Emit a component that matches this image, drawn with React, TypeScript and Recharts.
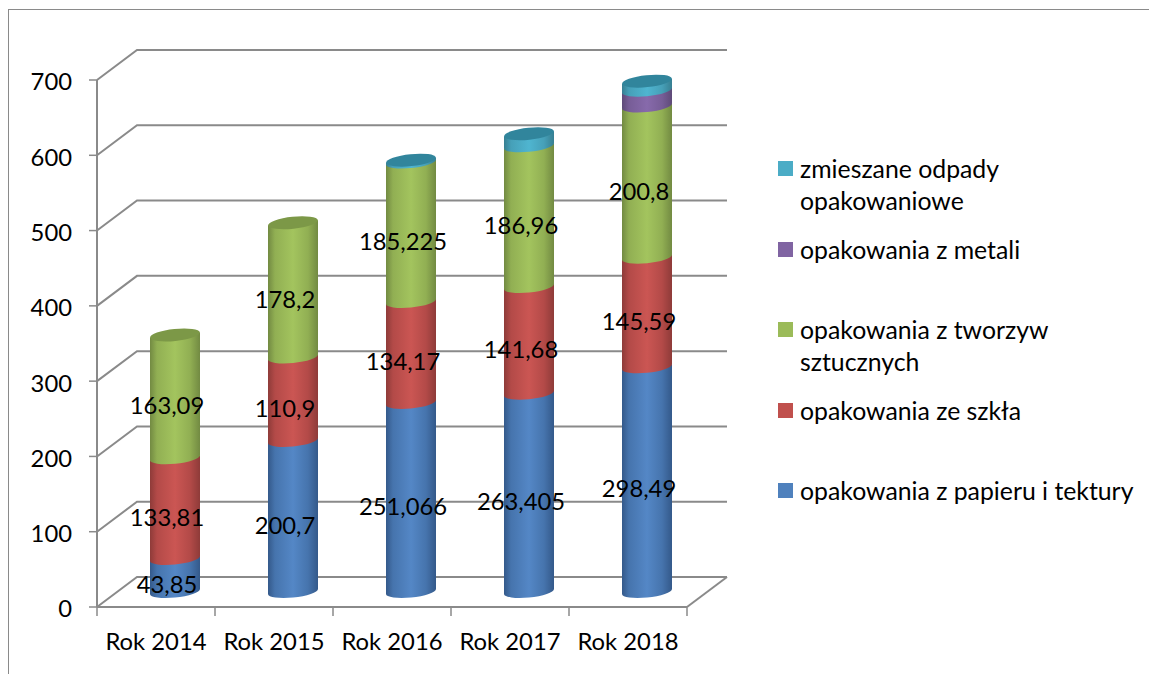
import { BarChart, Bar, XAxis, YAxis, CartesianGrid, Legend, LabelList } from "recharts";

const categories = ["Rok 2014", "Rok 2015", "Rok 2016", "Rok 2017", "Rok 2018"];
const paper = [43.85, 200.7, 251.066, 263.405, 298.49];
const glass = [133.81, 110.9, 134.17, 141.68, 145.59];
const plastic = [163.09, 178.2, 185.225, 186.96, 200.8];
const metal = [0, 0, 0, 0, 21];
const mixed = [0, 0, 2.5, 16, 12];
const yTicks = [0, 100, 200, 300, 400, 500, 600, 700];

const seriesValues = [paper, glass, plastic, metal, mixed];
const data = categories.map((name, i) => ({
  name,
  paper: paper[i],
  glass: glass[i],
  plastic: plastic[i],
  metal: metal[i],
  mixed: mixed[i],
}));

const FONT = "Lato, sans-serif";
const FONT_SIZE = 23.8;
const LINE = "#8a8a8a";
const BAND = 118;
const BOTTOM = 607;

const fmt = (v: any) => (v ? String(v).replace(".", ",") : "");

// the top of the stack gets the darker lid
function isTop(series: number, index: number) {
  for (let s = seriesValues.length - 1; s >= 0; s--) {
    if (seriesValues[s][index] > 0) return s === series;
  }
  return false;
}

const cylinder = (series: number, id: string, capFill: string) => (props: any) => {
  const { x, y, width, height, index } = props;
  if (!height || height <= 0) return <g />;
  const left = x + 19;
  const right = left + width;
  const top = y - 15.5;
  const bottom = y + height - 15.5;
  const rx = width / 2;
  const ry = 6;
  const t = 2.5;
  return (
    <g>
      <path
        d={`M${left},${top + t} L${right},${top - t} L${right},${bottom - t} A${rx},${ry} -6 0 1 ${left},${bottom + t} Z`}
        fill={`url(#${id})`}
      />
      {isTop(series, index) && (
        <ellipse cx={left + rx} cy={top} rx={rx} ry={ry} fill={capFill} transform={`rotate(-6 ${left + rx} ${top})`} />
      )}
    </g>
  );
};

function Gradient({ id, dark, base, light }: { id: string; dark: string; base: string; light: string }) {
  return (
    <linearGradient id={id} x1="0" y1="0" x2="1" y2="0">
      <stop offset="0" stopColor={dark} />
      <stop offset="0.14" stopColor={base} />
      <stop offset="0.5" stopColor={light} />
      <stop offset="0.8" stopColor={base} />
      <stop offset="1" stopColor={dark} />
    </linearGradient>
  );
}

// Excel puts the x ticks between the categories
function XTick(props: any) {
  const { x, y, index, payload } = props;
  const edge = x - BAND / 2;
  return (
    <g>
      <line x1={edge} x2={edge} y1={BOTTOM} y2={BOTTOM + 9} stroke={LINE} strokeWidth={1.5} />
      {index === categories.length - 1 && (
        <line x1={x + BAND / 2} x2={x + BAND / 2} y1={BOTTOM} y2={BOTTOM + 9} stroke={LINE} strokeWidth={1.5} />
      )}
      <text x={x} y={y + 1} textAnchor="middle" dominantBaseline="middle" fontSize={FONT_SIZE} fill="#000" fontFamily={FONT}>
        {payload.value}
      </text>
    </g>
  );
}

function GridLine(props: any) {
  const { x1, x2, y1, index } = props;
  const backY = y1 - 30;
  return (
    <g key={`grid-${index}`}>
      <polyline
        points={`${x1},${y1} ${x1 + 40},${backY} ${x2 + 40},${backY}`}
        fill="none"
        stroke={LINE}
        strokeWidth={2}
      />
      {Math.abs(y1 - BOTTOM) < 1 && (
        <line x1={x2} y1={y1} x2={x2 + 40} y2={backY} stroke={LINE} strokeWidth={2} />
      )}
    </g>
  );
}

function LegendList(props: any) {
  const items = [...(props.payload || [])].reverse();
  return (
    <div style={{ fontFamily: FONT, fontSize: 24.8, lineHeight: "31.5px", color: "#000" }}>
      {items.map((entry: any) => (
        <div key={entry.value} style={{ display: "flex", height: 80.5 }}>
          <span
            style={{ width: 15, height: 15, marginTop: 8, marginRight: 7, flexShrink: 0, background: entry.color }}
          />
          <span>{entry.value}</span>
        </div>
      ))}
    </div>
  );
}

export default function App() {
  return (
    <div style={{ position: "absolute", left: 0, top: 0, width: 1149, height: 674, overflow: "hidden", background: "#fff" }}>
      <div
        style={{
          position: "absolute",
          left: 8,
          top: 9,
          width: 1200,
          height: 700,
          borderLeft: "1.5px solid #8a8a8a",
          borderTop: "1.5px solid #8a8a8a",
        }}
      />
      <BarChart
        width={1149}
        height={674}
        data={data}
        margin={{ top: 80, right: 97, left: 0, bottom: 0 }}
        barSize={50}
        style={{ position: "absolute", left: 0, top: 0 }}
      >
        <defs>
          <Gradient id="gPaper" dark="#34598a" base="#4674ad" light="#5487c6" />
          <Gradient id="gGlass" dark="#8e3b39" base="#b34a48" light="#cb5653" />
          <Gradient id="gPlastic" dark="#728a42" base="#91af53" light="#a3c45e" />
          <Gradient id="gMetal" dark="#5e4a78" base="#775d97" light="#876aab" />
          <Gradient id="gMixed" dark="#377f92" base="#46a0b8" light="#4fb5d0" />
        </defs>
        <CartesianGrid vertical={false} horizontal={GridLine} />
        <XAxis
          dataKey="name"
          height={67}
          axisLine={{ stroke: LINE, strokeWidth: 2 }}
          tickLine={false}
          tick={<XTick />}
          tickMargin={30}
          interval={0}
        />
        <YAxis
          width={97}
          domain={[0, 700]}
          ticks={yTicks}
          axisLine={{ stroke: LINE, strokeWidth: 2 }}
          tickLine={{ stroke: LINE, strokeWidth: 1.5 }}
          tickSize={8}
          tickMargin={17}
          tick={{ fontSize: FONT_SIZE, fill: "#000", fontFamily: FONT, dy: 2 }}
        />
        <Legend
          layout="vertical"
          align="right"
          verticalAlign="top"
          width={365}
          itemSorter={null}
          content={<LegendList />}
          wrapperStyle={{ left: 778, top: 153, right: "auto" }}
        />
        <Bar dataKey="paper" name="opakowania z papieru i tektury" stackId="a" fill="#4f81bd" isAnimationActive={false} shape={cylinder(0, "gPaper", "#3f6797")}>
          <LabelList dataKey="paper" position="center" dx={11} dy={-6} formatter={fmt} fontSize={FONT_SIZE} fill="#000" fontFamily={FONT} />
        </Bar>
        <Bar dataKey="glass" name="opakowania ze szkła" stackId="a" fill="#c0504d" isAnimationActive={false} shape={cylinder(1, "gGlass", "#9a403e")}>
          <LabelList dataKey="glass" position="center" dx={11} dy={-6} formatter={fmt} fontSize={FONT_SIZE} fill="#000" fontFamily={FONT} />
        </Bar>
        <Bar dataKey="plastic" name="opakowania z tworzyw sztucznych" stackId="a" fill="#9bbb59" isAnimationActive={false} shape={cylinder(2, "gPlastic", "#7c9847")}>
          <LabelList dataKey="plastic" position="center" dx={11} dy={-6} formatter={fmt} fontSize={FONT_SIZE} fill="#000" fontFamily={FONT} />
        </Bar>
        <Bar dataKey="metal" name="opakowania z metali" stackId="a" fill="#8064a2" isAnimationActive={false} shape={cylinder(3, "gMetal", "#664f82")} />
        <Bar dataKey="mixed" name="zmieszane odpady opakowaniowe" stackId="a" fill="#4bacc6" isAnimationActive={false} shape={cylinder(4, "gMixed", "#31859c")} />
      </BarChart>
    </div>
  );
}
